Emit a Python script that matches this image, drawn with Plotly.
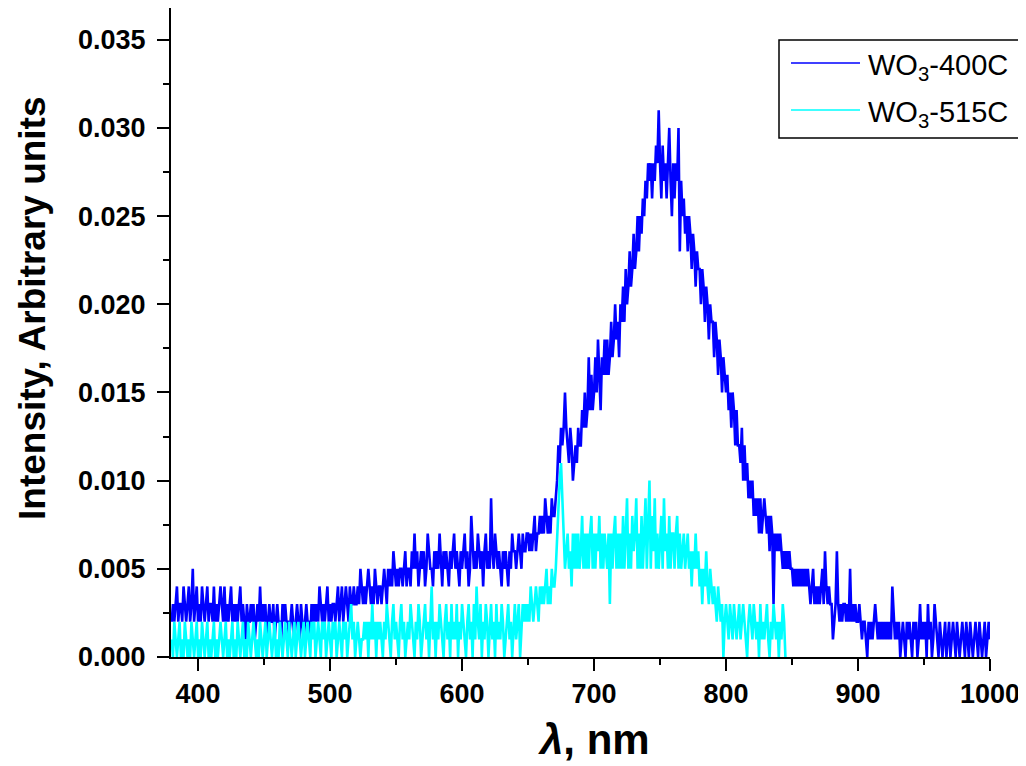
import numpy as np
import plotly.graph_objects as go

# ---------------- data (intensity in units of 0.001, 1 nm steps) ----------------
WL_START = 380          # first wavelength of both spectra, nm
INTENSITY_UNIT = 0.001  # quantisation step of the detector

# WO3-400C, 380 ... 1000 nm
wo3_400c = [
    2, 3, 2, 3, 4, 2, 3, 3, 2, 4,   # 380
    3, 2, 3, 4, 2, 3, 5, 2, 3, 4,   # 390
    2, 3, 2, 4, 3, 2, 3, 4, 2, 3,   # 400
    3, 2, 4, 2, 3, 2, 3, 4, 3, 2,   # 410
    4, 2, 3, 2, 3, 4, 2, 3, 2, 3,   # 420
    2, 3, 4, 2, 3, 2, 1, 3, 2, 2,   # 430
    3, 2, 3, 1, 2, 3, 2, 4, 2, 3,   # 440
    2, 3, 1, 2, 3, 2, 2, 3, 1, 2,   # 450
    3, 2, 2, 1, 3, 2, 3, 2, 2, 1,   # 460
    2, 3, 2, 1, 2, 3, 2, 1, 3, 2,   # 470
    1, 2, 3, 2, 2, 1, 3, 2, 3, 2,   # 480
    3, 2, 4, 3, 2, 3, 2, 3, 4, 2,   # 490
    3, 2, 3, 3, 2, 3, 4, 2, 3, 4,   # 500
    2, 3, 4, 3, 2, 4, 3, 3, 4, 3,   # 510
    3, 4, 3, 5, 4, 3, 4, 3, 4, 5,   # 520
    4, 3, 4, 3, 5, 4, 3, 4, 4, 3,   # 530
    4, 5, 4, 3, 5, 4, 5, 4, 6, 5,   # 540
    4, 5, 4, 5, 5, 4, 5, 6, 4, 5,   # 550
    5, 4, 6, 5, 7, 5, 6, 4, 5, 6,   # 560
    5, 6, 4, 5, 7, 6, 5, 5, 4, 6,   # 570
    5, 6, 5, 7, 5, 4, 6, 5, 6, 5,   # 580
    4, 6, 5, 6, 7, 5, 6, 5, 4, 6,   # 590
    5, 6, 7, 5, 6, 4, 5, 8, 6, 5,   # 600
    6, 5, 7, 6, 5, 6, 4, 6, 7, 5,   # 610
    6, 5, 9, 6, 5, 7, 6, 5, 6, 5,   # 620
    4, 6, 5, 6, 5, 4, 6, 5, 7, 6,   # 630
    6, 5, 6, 7, 6, 5, 7, 6, 6, 7,   # 640
    7, 6, 7, 6, 7, 8, 6, 7, 7, 8,   # 650
    7, 8, 7, 9, 8, 7, 8, 7, 9, 8,   # 660
    8, 9, 10, 12, 11, 13, 12, 13, 15, 13,    # 670
    12, 11, 13, 12, 10, 11, 12, 11, 13, 12,  # 680
    12, 14, 13, 15, 13, 14, 17, 14, 16, 14,  # 690
    15, 17, 15, 18, 16, 14, 17, 16, 18, 16,  # 700
    18, 16, 17, 19, 17, 18, 20, 18, 19, 17,  # 710
    20, 19, 21, 19, 22, 20, 21, 23, 21, 22,  # 720
    24, 22, 23, 25, 23, 25, 24, 26, 25, 27,  # 730
    26, 28, 27, 28, 26, 28, 27, 29, 28, 31,  # 740
    28, 26, 29, 27, 28, 26, 28, 30, 27, 25,  # 750
    28, 26, 28, 27, 30, 23, 27, 25, 26, 24,  # 760
    25, 23, 25, 24, 22, 24, 23, 21, 23, 22,  # 770
    22, 20, 22, 21, 19, 21, 20, 18, 20, 19,  # 780
    19, 17, 19, 18, 16, 18, 17, 15, 17, 16,  # 790
    15, 16, 14, 15, 13, 15, 14, 12, 14, 12,  # 800
    12, 11, 13, 10, 12, 10, 11, 9, 10, 9,    # 810
    10, 8, 9, 8, 9, 7, 9, 7, 8, 9,   # 820
    8, 7, 8, 6, 8, 7, 3, 7, 6, 7,    # 830
    6, 7, 6, 5, 6, 5, 6, 5, 6, 5,    # 840
    5, 4, 5, 4, 5, 4, 5, 4, 5, 4,    # 850
    5, 4, 5, 4, 3, 4, 5, 3, 4, 3,    # 860
    4, 3, 4, 5, 3, 6, 4, 3, 4, 3,    # 870
    3, 1, 2, 3, 6, 3, 2, 3, 2, 3,    # 880
    3, 2, 3, 2, 5, 2, 3, 2, 3, 2,    # 890
    2, 3, 2, 1, 2, 2, 1, 0, 2, 1,    # 900
    2, 1, 2, 3, 2, 1, 2, 1, 2, 1,    # 910
    2, 1, 2, 1, 2, 1, 4, 2, 1, 2,    # 920
    1, 2, 0, 1, 2, 1, 0, 2, 1, 2,    # 930
    1, 0, 2, 1, 2, 0, 1, 3, 1, 2,    # 940
    1, 2, 0, 3, 1, 2, 0, 1, 3, 2,    # 950
    1, 0, 2, 1, 0, 1, 2, 0, 1, 2,    # 960
    0, 1, 2, 1, 0, 2, 1, 0, 1, 2,    # 970
    1, 0, 2, 1, 0, 2, 1, 0, 1, 2,    # 980
    1, 0, 2, 1, 0, 1, 2, 0, 1, 2,    # 990
    1,                               # 1000
]

# WO3-515C, 380 ... 845 nm
wo3_515c = [
    1, 0, 2, 1, 0, 1, 2, 0, 1, 0,   # 380
    2, 1, 0, 1, 0, 2, 1, 0, 1, 2,   # 390
    0, 1, 0, 2, 1, 0, 1, 2, 0, 1,   # 400
    0, 1, 2, 0, 1, 0, 1, 2, 1, 0,   # 410
    1, 2, 0, 1, 0, 1, 2, 0, 1, 0,   # 420
    2, 1, 0, 1, 2, 0, 1, 0, 2, 1,   # 430
    0, 1, 2, 1, 0, 1, 0, 2, 1, 0,   # 440
    1, 2, 0, 1, 2, 1, 0, 1, 2, 0,   # 450
    1, 0, 2, 1, 0, 1, 2, 1, 0, 2,   # 460
    1, 0, 1, 2, 0, 1, 2, 1, 0, 1,   # 470
    2, 0, 1, 2, 1, 0, 2, 1, 2, 0,   # 480
    1, 2, 1, 0, 2, 1, 2, 0, 1, 2,   # 490
    1, 0, 2, 1, 2, 0, 1, 2, 1, 0,   # 500
    2, 1, 2, 0, 1, 2, 3, 1, 2, 0,   # 510
    1, 2, 1, 0, 1, 1, 2, 1, 2, 0,   # 520
    2, 1, 3, 1, 2, 0, 2, 1, 2, 1,   # 530
    0, 2, 1, 3, 2, 1, 0, 2, 3, 1,   # 540
    2, 1, 0, 2, 3, 1, 2, 0, 1, 2,   # 550
    1, 3, 2, 1, 0, 2, 1, 3, 2, 0,   # 560
    1, 2, 3, 1, 2, 0, 2, 4, 1, 2,   # 570
    0, 2, 1, 3, 2, 1, 0, 2, 3, 1,   # 580
    2, 0, 3, 1, 2, 1, 3, 0, 2, 1,   # 590
    3, 2, 1, 0, 2, 3, 1, 2, 0, 3,   # 600
    1, 4, 2, 1, 3, 0, 2, 1, 3, 2,   # 610
    0, 2, 3, 1, 2, 0, 3, 1, 2, 1,   # 620
    3, 2, 0, 1, 2, 3, 1, 2, 0, 2,   # 630
    3, 1, 2, 3, 0, 2, 3, 2, 3, 2,   # 640
    3, 2, 4, 3, 2, 3, 4, 3, 2, 4,   # 650
    3, 4, 3, 4, 5, 3, 4, 3, 5, 4,   # 660
    4, 5, 7, 9, 10, 11, 9, 7, 5, 6,  # 670
    7, 5, 6, 4, 7, 5, 7, 5, 7, 5,   # 680
    6, 8, 5, 7, 5, 7, 5, 7, 8, 5,   # 690
    7, 5, 7, 6, 8, 5, 7, 5, 7, 6,   # 700
    5, 7, 3, 7, 5, 7, 8, 5, 7, 5,   # 710
    7, 5, 8, 5, 7, 9, 5, 7, 5, 8,   # 720
    6, 7, 9, 5, 7, 5, 8, 5, 7, 9,   # 730
    5, 7, 10, 5, 8, 6, 9, 5, 7, 5,  # 740
    7, 8, 5, 9, 6, 7, 5, 8, 5, 7,   # 750
    7, 5, 7, 8, 5, 7, 5, 6, 7, 5,   # 760
    6, 7, 5, 6, 4, 6, 5, 7, 5, 6,   # 770
    4, 5, 3, 5, 4, 6, 4, 3, 5, 4,   # 780
    3, 4, 3, 2, 4, 3, 2, 3, 0, 2,   # 790
    3, 2, 1, 3, 2, 1, 3, 2, 1, 2,   # 800
    3, 1, 2, 3, 2, 1, 0, 2, 3, 2,   # 810
    1, 3, 2, 1, 2, 0, 3, 1, 2, 1,   # 820
    2, 3, 1, 0, 2, 1, 3, 2, 1, 2,   # 830
    0, 2, 1, 3, 2, 0,               # 840
]

series_names = ["WO<sub>3</sub>-400C", "WO<sub>3</sub>-515C"]
series_colors = ["#0000FF", "#00FFFF"]

x_ticks = [400, 500, 600, 700, 800, 900, 1000]
y_ticks = [0.000, 0.005, 0.010, 0.015, 0.020, 0.025, 0.030, 0.035]
x_title = "<i>λ</i>, nm"
y_title = "Intensity, Arbitrary units"

# ---------------- figure ----------------
OFF = 8                      # browser's default page margin
W, H = 1026 - OFF, 766 - OFF
L, R, T, B = 171 - OFF, 36, 0, 109
PW, PH = W - L - R, H - T - B


def px(xp):                  # page pixel x -> paper coordinate
    return (xp - OFF - L) / PW


def py(yp):                  # page pixel y -> paper coordinate
    return (H - B - (yp - OFF)) / PH


FONT = "Liberation Sans, Arial, sans-serif"

fig = go.Figure()
for vals, name, col in zip([wo3_400c, wo3_515c], series_names, series_colors):
    v = np.asarray(vals, dtype=float) * INTENSITY_UNIT
    wl = WL_START + np.arange(len(v))
    fig.add_trace(go.Scatter(x=wl, y=v, mode="lines", name=name,
                             line=dict(color=col, width=2.6), showlegend=False))

axis_common = dict(
    showline=True, linecolor="black", linewidth=2,
    ticks="outside", ticklen=12, tickwidth=2, tickcolor="black",
    showgrid=False, zeroline=False, mirror=False,
    tickfont=dict(family=FONT, size=27, color="black", weight="bold"),
)

fig.update_xaxes(range=[379.5, 1000], tickvals=x_ticks,
                 minor=dict(ticks="outside", ticklen=6, tickwidth=2, tickcolor="black",
                            tickvals=[450, 550, 650, 750, 850, 950]),
                 **axis_common)
fig.update_yaxes(range=[0, 0.0368], tickvals=y_ticks, tickformat=".3f",
                 ticklabelstandoff=6,
                 minor=dict(ticks="outside", ticklen=6, tickwidth=2, tickcolor="black",
                            tickvals=[0.0025, 0.0075, 0.0125, 0.0175, 0.0225, 0.0275, 0.0325]),
                 **axis_common)

annotations = [
    dict(text=y_title, xref="paper", yref="paper", x=px(32), y=py(308), textangle=-90,
         showarrow=False, xanchor="center", yanchor="middle",
         font=dict(family=FONT, size=37, color="black", weight="bold")),
    dict(text=x_title, xref="paper", yref="paper", x=px(594), y=py(740),
         showarrow=False, xanchor="center", yanchor="middle",
         font=dict(family=FONT, size=42, color="black", weight="bold")),
]
shapes = [
    dict(type="rect", xref="paper", yref="paper", x0=px(779), x1=px(1021),
         y0=py(138), y1=py(40), line=dict(color="black", width=1.5), fillcolor="white",
         layer="above"),
]
legend_rows = [63, 110]
for yy, name, col in zip(legend_rows, series_names, series_colors):
    shapes.append(dict(type="line", xref="paper", yref="paper", x0=px(791), x1=px(860),
                       y0=py(yy), y1=py(yy), line=dict(color=col, width=1.5), layer="above"))
    annotations.append(dict(text=name, xref="paper", yref="paper", x=px(866), y=py(yy + 4),
                            showarrow=False, xanchor="left", yanchor="middle",
                            font=dict(family=FONT, size=29, color="black")))

fig.update_layout(
    width=W, height=H,
    margin=dict(l=L, r=R, t=T, b=B, pad=0),
    paper_bgcolor="white", plot_bgcolor="white",
    showlegend=False,
    annotations=annotations, shapes=shapes,
)

fig.write_html("out.html")
